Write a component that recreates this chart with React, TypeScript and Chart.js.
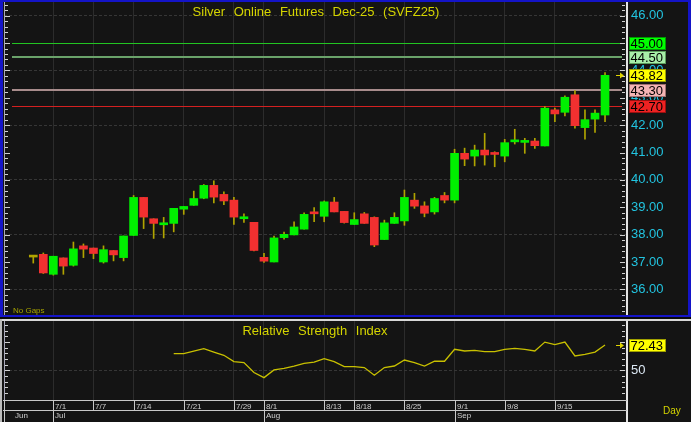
import React, { useEffect, useRef } from 'react';
import { Chart, registerables } from 'chart.js';

Chart.register(...registerables);

const W = 691;
const H = 422;
const FONT = "'Liberation Sans', Arial, sans-serif";
const BG = '#141414';

// ---- data ----
const openP = [
  37.18, 37.28, 36.55, 37.15, 36.88, 37.59, 37.51, 37.0, 37.42, 37.16,
  37.97, 39.36, 38.58, 38.36, 38.41, 38.93, 39.07, 39.33, 39.8, 39.47,
  39.26, 38.58, 38.45, 37.17, 37.0, 37.89, 37.99, 38.2, 38.79, 38.67,
  39.19, 38.85, 38.37, 38.76, 38.63, 37.82, 38.41, 38.5, 39.26, 39.05,
  38.83, 39.43, 39.26, 40.97, 40.87, 41.09, 40.96, 40.87, 41.39, 41.37,
  41.42, 41.24, 42.56, 42.47, 43.11, 41.91, 42.22, 42.37,
];
const highP = [
  37.18, 37.33, 37.21, 37.15, 37.73, 37.66, 37.51, 37.59, 37.42, 37.95,
  39.43, 39.36, 38.58, 38.63, 38.96, 39.03, 39.59, 39.83, 39.97, 39.56,
  39.36, 38.76, 38.45, 37.32, 37.95, 38.09, 38.47, 38.8, 38.99, 39.23,
  39.36, 38.85, 38.8, 38.81, 38.65, 38.53, 38.8, 39.63, 39.51, 39.2,
  39.36, 39.54, 41.12, 41.16, 41.27, 41.7, 41.03, 41.48, 41.85, 41.52,
  41.52, 42.68, 42.62, 43.07, 43.26, 42.56, 42.56, 43.92,
];
const lowP = [
  36.96, 36.58, 36.52, 36.55, 36.85, 37.16, 37.12, 36.96, 37.04, 37.04,
  37.97, 38.22, 37.86, 37.88, 38.1, 38.74, 39.07, 39.31, 39.16, 39.09,
  38.37, 38.45, 37.4, 36.98, 37.0, 37.83, 37.99, 38.2, 38.47, 38.47,
  38.83, 38.42, 38.37, 38.41, 37.56, 37.82, 38.41, 38.34, 38.96, 38.65,
  38.75, 39.16, 39.16, 40.52, 40.51, 40.54, 40.48, 40.66, 41.31, 40.97,
  41.15, 41.24, 42.13, 42.34, 41.89, 41.49, 41.73, 42.13,
];
const closeP = [
  37.18, 36.6, 37.21, 36.85, 37.48, 37.47, 37.31, 37.45, 37.26, 37.95,
  39.36, 38.64, 38.41, 38.38, 38.96, 39.03, 39.32, 39.8, 39.37, 39.23,
  38.64, 38.6, 37.42, 37.03, 37.88, 38.01, 38.28, 38.74, 38.76, 39.2,
  38.83, 38.44, 38.55, 38.41, 37.62, 38.43, 38.63, 39.36, 39.04, 38.78,
  39.32, 39.26, 40.97, 40.76, 41.09, 40.91, 40.93, 41.36, 41.41, 41.39,
  41.25, 42.62, 42.41, 43.02, 41.98, 42.2, 42.44, 43.82,
];

const rsiStart = 14;
const rsiValues = [
  64.8, 64.8, 67.1, 69.2, 66.2, 63.3, 57.7, 56.8, 48.0, 43.5,
  50.3, 51.8, 53.8, 56.2, 57.3, 60.4, 57.7, 53.3, 53.3, 52.4,
  45.6, 52.4, 53.8, 59.1, 56.8, 53.8, 58.0, 58.0, 68.6, 67.1,
  67.7, 66.5, 66.5, 68.6, 69.5, 68.6, 67.1, 75.0, 72.7, 75.0,
  62.7, 64.2, 66.2, 72.43,
];

const dateTickIdx = [2, 6, 10, 15, 20, 23, 29, 32, 37, 42, 47, 52];
const dateTickLabels = ['7/1', '7/7', '7/14', '7/21', '7/29', '8/1', '8/13', '8/18', '8/25', '9/1', '9/8', '9/15'];
const monthIdx = [2, 23, 42];
const monthLabels = ['Jul', 'Aug', 'Sep'];
const firstMonthLabel = 'Jun';

const priceTicks = [36, 37, 38, 39, 40, 41, 42, 43, 44, 45, 46];
const rsiTicks = [50];

const levelValues = [45.0, 44.5, 43.3, 42.7];
const levelLabels = ['45.00', '44.50', '43.30', '42.70'];
const lastPrice = 43.82;
const lastPriceLabel = '43.82';
const lastRsi = 72.43;
const lastRsiLabel = '72.43';

const titleText = 'Silver Online Futures Dec-25 (SVFZ25)';
const rsiTitleText = 'Relative Strength Index';

// ---- styles ----
const levelLineStyles = [
  { color: '#22c422', width: 1 },
  { color: '#6aa26a', width: 2 },
  { color: '#a88c8c', width: 2 },
  { color: '#d42020', width: 1 },
];
const levelBoxStyles = [
  { bg: '#00ff00', border: '#009a00' },
  { bg: '#a8eea8', border: '#5c9c5c' },
  { bg: '#f4b4b4', border: '#a07070' },
  { bg: '#ee2222', border: '#9a1010' },
];

const XMIN = -2.92;
const XMAX = 59.19;
const PMIN = 34.99;
const PMAX = 46.5;
const RMIN = 23.67;
const RMAX = 97.25;

const UP = '#00f000';
const DOWN = '#f23030';
const FLAT = '#b0a400';
const WICK = '#b0a400';

const idx = openP.map((_, i) => i);
const bodyColors = idx.map((i) => (closeP[i] > openP[i] ? UP : closeP[i] < openP[i] ? DOWN : FLAT));

const decorPlugin = {
  id: 'decor',
  beforeDraw(chart: any) {
    const { ctx } = chart;
    ctx.save();
    ctx.fillStyle = BG;
    ctx.fillRect(0, 0, W, H);
    ctx.restore();
  },
  beforeDatasetsDraw(chart: any) {
    const { ctx, chartArea } = chart;
    const ys = chart.scales.y;
    ctx.save();
    levelValues.forEach((v, i) => {
      const st = levelLineStyles[i];
      let py = Math.round(ys.getPixelForValue(v));
      if (st.width % 2 === 1) py += 0.5;
      ctx.strokeStyle = st.color;
      ctx.lineWidth = st.width;
      ctx.beginPath();
      ctx.moveTo(chartArea.left + 8, py);
      ctx.lineTo(chartArea.right - 5, py);
      ctx.stroke();
    });
    ctx.restore();
  },
  afterDraw(chart: any) {
    const { ctx, chartArea } = chart;
    const ys = chart.scales.y;
    const yr = chart.scales.y2;
    const xs = chart.scales.x;
    const { left, right, bottom } = chartArea;
    const line = (x1: number, y1: number, x2: number, y2: number) => {
      ctx.beginPath();
      ctx.moveTo(x1, y1);
      ctx.lineTo(x2, y2);
      ctx.stroke();
    };
    ctx.save();

    // left axis line
    ctx.strokeStyle = '#a8a8b8';
    ctx.lineWidth = 1;
    line(left + 0.5, 2, left + 0.5, bottom);

    // tick marks, price panel
    ctx.strokeStyle = '#d0d0d0';
    for (let k = Math.ceil(PMIN * 5); k <= Math.floor(PMAX * 5); k++) {
      const v = k / 5;
      const py = Math.round(ys.getPixelForValue(v)) + 0.5;
      if (py < 4 || py > 313) continue;
      const major = k % 5 === 0;
      line(left + 1, py, left + 1 + (major ? 5 : 3), py);
      line(right - 2, py, right - 2 - (major ? 5 : 3), py);
    }
    // tick marks, RSI panel
    for (let v = 25; v <= 95; v += 5) {
      const py = Math.round(yr.getPixelForValue(v)) + 0.5;
      if (py < 322 || py > 398) continue;
      const major = v % 25 === 0;
      line(left + 1, py, left + 1 + (major ? 5 : 3), py);
      line(right - 2, py, right - 2 - (major ? 5 : 3), py);
    }

    // axis line
    ctx.fillStyle = '#e4e4e4';
    ctx.fillRect(right - 1, 2, 2, H - 2);

    // frames
    ctx.fillStyle = '#1414c8';
    ctx.fillRect(0, 0, W, 2);
    ctx.fillRect(0, 0, 3, 317);
    ctx.fillRect(W - 3, 0, 3, 317);
    ctx.fillRect(0, 315, W, 2);
    ctx.fillStyle = '#0a0a0a';
    ctx.fillRect(0, 317, W, 2);
    ctx.fillStyle = '#d8d8d8';
    ctx.fillRect(0, 319, W, 2);
    ctx.fillStyle = '#bcbcbc';
    ctx.fillRect(0, 319, 2, H - 319);

    // date rows
    ctx.strokeStyle = '#c8c8c8';
    ctx.lineWidth = 1;
    line(3, bottom + 0.5, right, bottom + 0.5);
    line(3, bottom + 10.5, right, bottom + 10.5);
    line(4.5, bottom, 4.5, H);
    ctx.font = `8px ${FONT}`;
    ctx.fillStyle = '#cfcfcf';
    ctx.textAlign = 'left';
    ctx.textBaseline = 'alphabetic';
    dateTickIdx.forEach((d, i) => {
      const px = Math.round(xs.getPixelForValue(d)) + 0.5;
      line(px, bottom, px, bottom + 10);
      ctx.fillText(dateTickLabels[i], px + 1.5, bottom + 8.5);
    });
    monthIdx.forEach((d, i) => {
      const px = Math.round(xs.getPixelForValue(d)) + 0.5;
      line(px, bottom + 10, px, H);
      ctx.fillText(monthLabels[i], px + 1.5, bottom + 18);
    });
    ctx.fillText(firstMonthLabel, 15, bottom + 18);

    // titles
    ctx.fillStyle = '#d4d400';
    ctx.font = `13px ${FONT}`;
    ctx.textAlign = 'center';
    (ctx as any).wordSpacing = '5px';
    ctx.fillText(titleText, 316, 16);
    ctx.fillText(rsiTitleText, 315, 334.5);
    (ctx as any).wordSpacing = '0px';

    ctx.textAlign = 'left';
    ctx.font = `8px ${FONT}`;
    ctx.fillStyle = '#a8a400';
    ctx.fillText('No Gaps', 13, 313);

    ctx.font = `10px ${FONT}`;
    ctx.fillStyle = '#d4d400';
    ctx.fillText('Day', 663, 414);

    // value boxes
    const box = (py: number, txt: string, bg: string, border: string) => {
      const y0 = Math.round(py) - 6;
      ctx.fillStyle = bg;
      ctx.fillRect(629, y0, 37, 13);
      ctx.strokeStyle = border;
      ctx.lineWidth = 1;
      ctx.strokeRect(629.5, y0 + 0.5, 36, 12);
      ctx.fillStyle = '#000';
      ctx.font = `13px ${FONT}`;
      ctx.textAlign = 'left';
      ctx.textBaseline = 'middle';
      ctx.fillText(txt, 630.5, y0 + 7);
    };
    const arrow = (py: number) => {
      const y = Math.round(py) + 0.5;
      ctx.strokeStyle = '#e0d400';
      ctx.fillStyle = '#e0d400';
      ctx.lineWidth = 1;
      line(616, y, 621, y);
      ctx.beginPath();
      ctx.moveTo(620, y - 3);
      ctx.lineTo(624, y);
      ctx.lineTo(620, y + 3);
      ctx.closePath();
      ctx.fill();
    };
    const pLast = ys.getPixelForValue(lastPrice);
    levelValues.forEach((v, i) => {
      if (i === 2) box(pLast, lastPriceLabel, '#ffff00', '#a0a000');
      box(ys.getPixelForValue(v), levelLabels[i], levelBoxStyles[i].bg, levelBoxStyles[i].border);
    });
    arrow(pLast);
    const rLast = yr.getPixelForValue(lastRsi);
    box(rLast, lastRsiLabel, '#ffff00', '#a0a000');
    arrow(rLast);

    ctx.restore();
  },
};

const noPad = (s: any) => {
  s.width = 64;
  s.paddingTop = 0;
  s.paddingBottom = 0;
};

export default function App() {
  const ref = useRef<HTMLCanvasElement>(null);
  useEffect(() => {
    const canvas = ref.current;
    if (!canvas) return;
    const wickData = idx.map((i) => ({ x: i, y: [lowP[i], highP[i]] }));
    const bodyData = idx.map((i) => ({ x: i, y: [openP[i], closeP[i]] }));
    const rsiData = rsiValues.map((v, k) => ({ x: rsiStart + k, y: v }));

    const chart = new Chart(canvas, {
      type: 'bar',
      data: {
        datasets: [
          {
            type: 'bar',
            data: bodyData as any,
            xAxisID: 'x',
            yAxisID: 'y',
            backgroundColor: bodyColors,
            borderWidth: 0,
            barThickness: 8,
            minBarLength: 2,
            grouped: false,
            order: 1,
          } as any,
          {
            type: 'bar',
            data: wickData as any,
            xAxisID: 'x',
            yAxisID: 'y',
            backgroundColor: WICK,
            borderWidth: 0,
            barThickness: 1,
            grouped: false,
            order: 2,
          } as any,
          {
            type: 'line',
            data: rsiData as any,
            xAxisID: 'x',
            yAxisID: 'y2',
            borderColor: '#c8c000',
            borderWidth: 1.3,
            pointRadius: 0,
            tension: 0,
            order: 0,
          } as any,
        ],
      },
      options: {
        animation: false,
        responsive: false,
        maintainAspectRatio: false,
        layout: { padding: { top: 2, bottom: 22, left: 4, right: 0 } },
        plugins: { legend: { display: false }, tooltip: { enabled: false }, title: { display: false } },
        scales: {
          x: {
            type: 'linear',
            offset: false,
            min: XMIN,
            max: XMAX,
            ticks: { display: false },
            grid: { color: '#2c2c2c', drawTicks: false, offset: false },
            border: { display: false },
            afterBuildTicks: (s: any) => {
              s.ticks = dateTickIdx.map((v) => ({ value: v }));
            },
            afterFit: (s: any) => {
              s.height = 0;
              s.paddingLeft = 0;
              s.paddingRight = 0;
            },
          },
          y: {
            type: 'linear',
            position: 'right',
            stack: 'panels',
            stackWeight: 315,
            min: PMIN,
            max: PMAX,
            afterBuildTicks: (s: any) => {
              s.ticks = priceTicks.map((v) => ({ value: v }));
            },
            afterFit: noPad,
            ticks: {
              autoSkip: false,
              color: '#22c4e0',
              font: { family: FONT, size: 13 },
              padding: 4,
              callback: (v: any) => Number(v).toFixed(2),
            },
            grid: {
              drawTicks: false,
              color: (c: any) => (c.tick && c.tick.value % 2 === 0 ? '#363636' : 'rgba(0,0,0,0)'),
            },
            border: { display: false, dash: [3, 2] },
          },
          y2: {
            type: 'linear',
            position: 'right',
            stack: 'panels',
            stackWeight: 83,
            min: RMIN,
            max: RMAX,
            afterBuildTicks: (s: any) => {
              s.ticks = rsiTicks.map((v) => ({ value: v }));
            },
            afterFit: noPad,
            ticks: {
              autoSkip: false,
              color: '#dce8f4',
              font: { family: FONT, size: 13 },
              padding: 4,
            },
            grid: { drawTicks: false, color: '#363636' },
            border: { display: false, dash: [3, 2] },
          },
        },
      } as any,
      plugins: [decorPlugin],
    } as any);
    return () => chart.destroy();
  }, []);

  return (
    <div style={{ position: 'absolute', left: 0, top: 0, width: W, height: H, background: BG }}>
      <canvas ref={ref} width={W} height={H} style={{ display: 'block', width: W, height: H }} />
    </div>
  );
}
